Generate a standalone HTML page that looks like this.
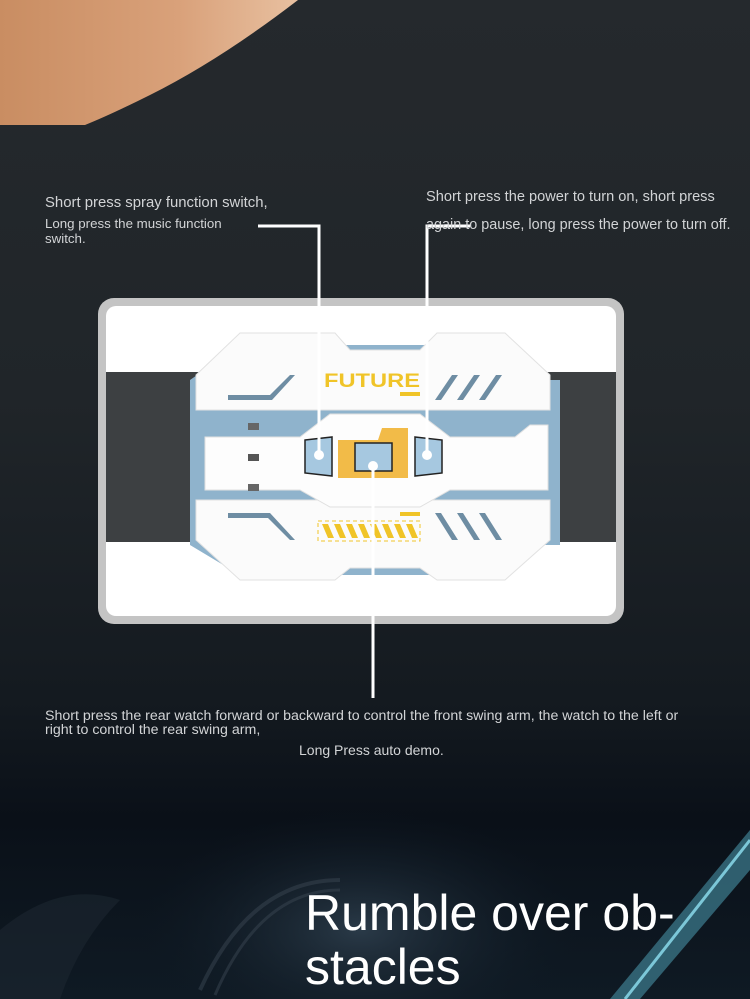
<!DOCTYPE html>
<html><head><style>
body{margin:0;width:750px;height:999px;overflow:hidden;background:linear-gradient(#25292d 0%,#202529 40%,#141a20 70%,#0a1018 82%,#0f1a24 100%);font-family:"Liberation Sans",sans-serif;position:relative}
.t{position:absolute;color:#d2d4d6;white-space:nowrap}
</style></head><body>
<svg width="750" height="999" style="position:absolute;left:0;top:0">
<defs>
<linearGradient id="sk" x1="0" y1="0" x2="1" y2="0"><stop offset="0" stop-color="#c98d62"/><stop offset="0.6" stop-color="#d9a17a"/><stop offset="1" stop-color="#e8c0a0"/></linearGradient>
<radialGradient id="glow" cx="0.5" cy="0.5" r="0.5"><stop offset="0" stop-color="#2a3a48"/><stop offset="1" stop-color="#0f1a24" stop-opacity="0"/></radialGradient>
</defs>
<path d="M0 0 L298 0 Q220 60 150 95 Q110 115 85 125 L0 125 Z" fill="url(#sk)"/>
<ellipse cx="360" cy="930" rx="220" ry="120" fill="url(#glow)"/>
<path d="M0 930 Q60 880 120 900 Q80 940 60 999 L0 999Z" fill="#1c2630" opacity="0.6"/>
<path d="M200 990 Q250 880 340 880" stroke="#3a4652" stroke-width="4" fill="none" opacity="0.5"/>
<path d="M215 995 Q260 890 340 890" stroke="#3a4652" stroke-width="3" fill="none" opacity="0.5"/>
<path d="M750 830 L610 999 L640 999 L750 870Z" fill="#3f7f92" opacity="0.7"/>
<path d="M750 840 L625 999" stroke="#7cc7d8" stroke-width="3"/>
<rect x="98" y="298" width="526" height="326" rx="16" fill="#c4c4c4"/>
<rect x="106" y="306" width="510" height="310" rx="10" fill="#fff"/>
<rect x="106" y="372" width="510" height="170" fill="#3d4042"/>
<path d="M190 380 L240 345 L485 345 L530 380 L560 380 L560 545 L530 545 L485 575 L240 575 L190 545Z" fill="#8fb3cc"/>
<path d="M196 375 L240 333 L335 333 L350 350 L420 350 L437 333 L505 333 L550 375 L550 410 L196 410Z" fill="#fbfbfb" stroke="#e2e2e2"/>
<path d="M196 500 L550 500 L550 540 L505 580 L437 580 L420 568 L350 568 L335 580 L240 580 L196 540Z" fill="#fbfbfb" stroke="#e2e2e2"/>
<path d="M205 437 L300 437 L330 414 L420 414 L450 437 L515 437 L530 425 L548 425 L548 490 L515 490 L450 490 L420 507 L330 507 L300 490 L205 490Z" fill="#fdfdfd" stroke="#e0e0e0"/>
<rect x="248" y="454" width="11" height="7" fill="#555"/>
<rect x="248" y="423" width="11" height="7" fill="#666"/>
<rect x="248" y="484" width="11" height="7" fill="#666"/>
<path d="M305 440 L332 437 L332 476 L305 473Z" fill="#a6c8e0" stroke="#222" stroke-width="1.5"/>
<path d="M415 437 L442 440 L442 473 L415 476Z" fill="#a6c8e0" stroke="#222" stroke-width="1.5"/>
<path d="M338 440 L378 440 L382 428 L408 428 L408 478 L338 478Z" fill="#f2bb48"/>
<rect x="355" y="443" width="37" height="28" fill="#a6c8e0" stroke="#222" stroke-width="1.5"/>
<text x="324" y="387" font-family="Liberation Sans" font-size="19" font-weight="bold" fill="#f0c428" textLength="96" lengthAdjust="spacingAndGlyphs">FUTURE</text>
<rect x="400" y="392" width="20" height="4" fill="#f0c428"/>
<path d="M228 400 L272 400 L295 375 L290 375 L270 395 L228 395Z" fill="#6e8da3"/>
<path d="M435 400 L452 375 L458 375 L441 400Z M457 400 L474 375 L480 375 L463 400Z M479 400 L496 375 L502 375 L485 400Z" fill="#6e8da3"/>
<path d="M228 513 L270 513 L295 540 L290 540 L268 518 L228 518Z" fill="#6e8da3"/>
<path d="M435 513 L452 540 L458 540 L441 513Z M457 513 L474 540 L480 540 L463 513Z M479 513 L496 540 L502 540 L485 513Z" fill="#6e8da3"/>
<rect x="318" y="521" width="102" height="20" fill="none" stroke="#f0c428" stroke-dasharray="4 3"/>
<g fill="#f0c428"><path d="M322 524 L328 524 L334 538 L328 538Z M334 524 L340 524 L346 538 L340 538Z M346 524 L352 524 L358 538 L352 538Z M358 524 L364 524 L370 538 L364 538Z M370 524 L376 524 L382 538 L376 538Z M382 524 L388 524 L394 538 L388 538Z M394 524 L400 524 L406 538 L400 538Z M406 524 L412 524 L418 538 L412 538Z"/></g>
<rect x="400" y="512" width="20" height="4" fill="#f0c428"/>
<path d="M258 226 L319 226 L319 455" stroke="#fff" stroke-width="3" fill="none"/>
<path d="M470 226 L427 226 L427 455" stroke="#fff" stroke-width="3" fill="none"/>
<path d="M373 466 L373 698" stroke="#fff" stroke-width="3" fill="none"/>
<circle cx="319" cy="455" r="5" fill="#fff"/>
<circle cx="427" cy="455" r="5" fill="#fff"/>
<circle cx="373" cy="466" r="5" fill="#fff"/>
</svg>
<div class="t" style="left:45px;top:195px;font-size:14.9px">Short press spray function switch,</div>
<div class="t" style="left:45px;top:216px;font-size:13.3px;line-height:15px">Long press the music function<br>switch.</div>
<div class="t" style="left:426px;top:189px;font-size:14.6px">Short press the power to turn on, short press</div>
<div class="t" style="left:426px;top:217px;font-size:14.4px">again to pause, long press the power to turn off.</div>
<div class="t" style="left:45px;top:709px;font-size:14.2px;line-height:14px">Short press the rear watch forward or backward to control the front swing arm, the watch to the left or<br>right to control the rear swing arm,</div>
<div class="t" style="left:299px;top:742px;font-size:14px">Long Press auto demo.</div>
<div class="t" style="left:305px;top:886px;height:113px;overflow:hidden;font-size:50px;line-height:54px;color:#fff">Rumble over ob-<br>stacles</div>
</body></html>
